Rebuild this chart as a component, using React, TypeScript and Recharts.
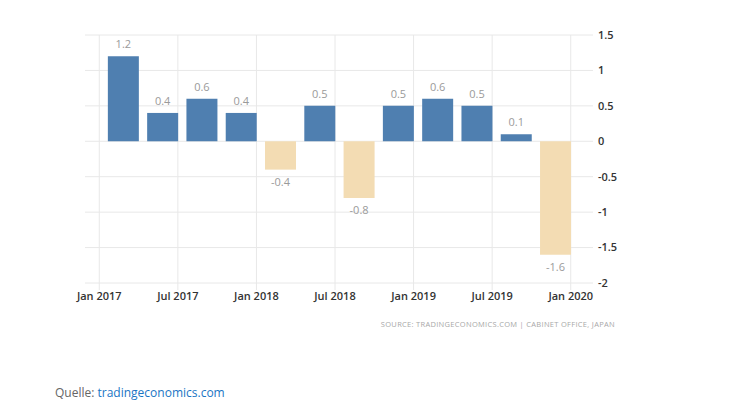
import React from "react";
import { BarChart, Bar, XAxis, YAxis, CartesianGrid, Cell, LabelList } from "recharts";

// quarterly GDP growth, Japan (% QoQ)
const quarters = ["Q1 2017", "Q2 2017", "Q3 2017", "Q4 2017", "Q1 2018", "Q2 2018", "Q3 2018", "Q4 2018", "Q1 2019", "Q2 2019", "Q3 2019", "Q4 2019"];
const growth = [1.2, 0.4, 0.6, 0.4, -0.4, 0.5, -0.8, 0.5, 0.6, 0.5, 0.1, -1.6];
// months since Jan 2017 where each bar sits on the time axis
const barMonths = [1.85, 4.85, 7.85, 10.85, 13.85, 16.85, 19.85, 22.85, 25.85, 28.85, 31.85, 34.85];

const xTicks = [0, 6, 12, 18, 24, 30, 36];
const xTickLabels = ["Jan 2017", "Jul 2017", "Jan 2018", "Jul 2018", "Jan 2019", "Jul 2019", "Jan 2020"];
const yTicks = [-2, -1.5, -1, -0.5, 0, 0.5, 1, 1.5];

const data = quarters.map((q, i) => ({ quarter: q, month: barMonths[i], value: growth[i] }));

const BLUE = "#4f7fb0";
const TAN = "#f3dcb3";
const GRID = "#e8e8e8";
const FONT = "'Open Sans', sans-serif";

const ValueLabel = (props: any) => {
  const { x, y, width, height, value } = props;
  const neg = value < 0;
  const bottom = y + height;
  const top = Math.min(y, bottom);
  const low = Math.max(y, bottom);
  return (
    <text
      x={x + width / 2}
      y={neg ? low + 16 : top - 8}
      textAnchor="middle"
      fontSize={11}
      fill="#9a9a9a"
      fontFamily={FONT}
    >
      {value}
    </text>
  );
};

// vertical grid only at the labelled month ticks, through the axis scale
const verticalAtTicks = (props: any) => {
  const scale = props.xAxis && props.xAxis.scale;
  if (!scale) return [];
  const fn = typeof scale === "function" ? scale : scale.map ? (v: number) => scale.map(v) : null;
  if (!fn) return [];
  return xTicks.map((t) => fn(t));
};

export default function App() {
  return (
    <div style={{ position: "absolute", left: 0, top: 0, width: 740, height: 411, background: "#fff", fontFamily: FONT }}>
      <div style={{ position: "absolute", left: 0, top: 0 }}>
        <BarChart width={740} height={310} data={data} margin={{ top: 35, right: 107, bottom: 7, left: 85 }}>
          <CartesianGrid stroke={GRID} strokeWidth={1} verticalCoordinatesGenerator={verticalAtTicks} />
          <XAxis
            dataKey="month"
            type="number"
            domain={[-1.09, 37.7]}
            ticks={xTicks}
            tickFormatter={(v: number) => xTickLabels[xTicks.indexOf(v)]}
            axisLine={false}
            tickLine={{ stroke: GRID }}
            tickSize={7}
            height={20}
            tick={{ fontSize: 11, fontWeight: 600, fill: "#333", fontFamily: FONT }}
            interval={0}
            allowDataOverflow
          />
          <YAxis
            orientation="right"
            domain={[-2, 1.5]}
            ticks={yTicks}
            axisLine={false}
            tickLine={false}
            tickSize={3}
            width={40}
            tick={{ fontSize: 11, fontWeight: 600, fill: "#333", fontFamily: FONT, textAnchor: "start" }}
          />
          <Bar dataKey="value" barSize={31} isAnimationActive={false}>
            {data.map((d) => (
              <Cell key={d.quarter} fill={d.value < 0 ? TAN : BLUE} />
            ))}
            <LabelList dataKey="value" content={ValueLabel} />
          </Bar>
        </BarChart>
      </div>
      <div
        style={{
          position: "absolute",
          right: 125,
          top: 319,
          fontSize: 7.5,
          letterSpacing: 0.3,
          color: "#a8a8a8",
          fontFamily: FONT,
          whiteSpace: "nowrap",
        }}
      >
        SOURCE: TRADINGECONOMICS.COM | CABINET OFFICE, JAPAN
      </div>
      <div style={{ position: "absolute", left: 55, top: 384, fontSize: 12, color: "#666", fontFamily: FONT }}>
        Quelle: <span style={{ color: "#1a75c4" }}>tradingeconomics.com</span>
      </div>
    </div>
  );
}
